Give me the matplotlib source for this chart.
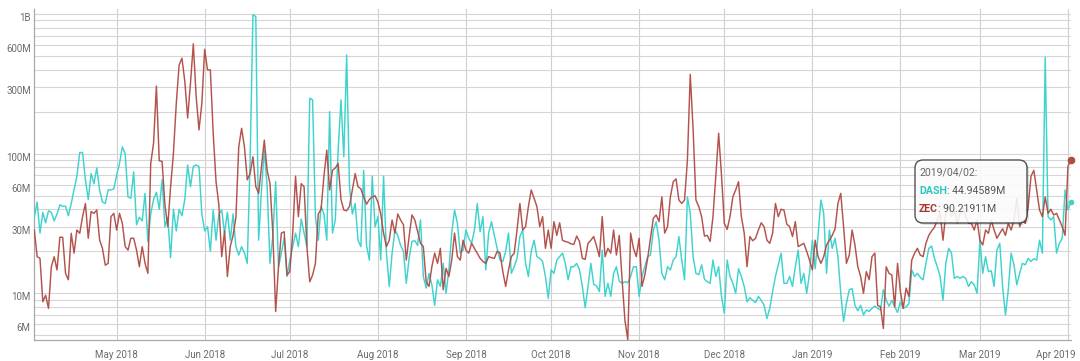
import matplotlib
matplotlib.use("Agg")
import matplotlib.pyplot as plt
import matplotlib.dates as mdates
import matplotlib.transforms as mtransforms
import numpy as np
import pandas as pd
from matplotlib.patches import FancyBboxPatch
from matplotlib.ticker import FixedLocator, FixedFormatter, LogLocator, NullFormatter

plt.rcParams["font.family"] = ["Roboto", "DejaVu Sans"]

# ---------------- data (daily volume, millions USD) ----------------
start_date = "2018-04-02"

dash_apr_jun = [35, 45, 27, 38, 32, 39, 38, 33, 37, 43, 42, 42, 36, 44, 55, 69, 102, 102, 65, 47,
                72, 61, 79, 55, 45, 44, 55, 55, 56, 70, 85, 112, 100, 49, 48, 74, 31, 35, 33, 52,
                23.5, 37, 47, 53, 40, 65, 30, 35, 18, 40, 28, 40, 36, 47, 83, 58, 81, 83, 81, 37,
                28, 30, 20]
dash_jun_aug = [39.5, 24, 37, 39.5, 27, 38, 24, 37, 21.6, 18.8, 21.6, 19.4, 16.4, 90, 990, 960, 24, 55, 106, 58,
                16.4, 25.5, 63, 15.5, 19.4, 25, 13.2, 17.3, 21.6, 27, 21.6, 34, 27, 21.6, 250, 243, 35.4, 24, 42, 37,
                24, 200, 27, 33.5, 106, 243, 95, 510, 58, 37, 44, 24, 21.6, 76, 22, 17.3, 69, 30, 35.4, 17.3,
                69]
dash_aug_oct = [19.4, 11.2, 19.4, 28.4, 26, 22, 20, 11.8, 17.8, 23.5, 23.8, 22, 33.5, 13.2, 10.9, 13.9, 11.5, 8.2, 12.5, 11.2,
                16.4, 10, 14.7, 27, 39.5, 31.7, 19.4, 20.4, 28.4, 24.8, 22.8, 28.4, 44, 27.6, 35.4, 14.7, 27, 32.6, 26, 21,
                17.3, 16.9, 20, 27, 13.9, 15.5, 17.8, 25.5, 28.4, 16.4, 13.2, 20, 24, 18.3, 17.8, 16.9, 13.2, 9.2, 14.7, 13.9,
                17.3]
dash_oct_dec = [18.3, 19.4, 16.4, 12.5, 15.5, 15.5, 16.4, 14.7, 11.2, 7.9, 11.2, 16.4, 11.6, 11.3, 10.3, 20.4, 9.5, 11.8, 9.5, 13.9,
                15.5, 12.2, 11.8, 12.1, 11.9, 13.2, 15.5, 15.5, 9.5, 13.2, 15.5, 18.3, 18.8, 28.4, 32.6, 24, 13.9, 12.5, 15.5, 14.7,
                17.3, 18.3, 25.5, 17.3, 12.5, 49, 37.4, 18.3, 13.9, 13.6, 16, 12.6, 12.1, 11.8, 17.3, 13.2, 15.5, 9.5, 7.2, 17.3,
                13.2, 11.8]
dash_dec_feb = [10, 15, 13.2, 11.2, 8.7, 9.3, 8.9, 8.6, 9.5, 8.9, 8.2, 6.6, 7.8, 10.3, 13.2, 16, 19.4, 11.8, 11.8, 13.2,
                11.2, 15.5, 20.4, 11.8, 13.9, 10, 13.9, 24, 15, 26, 46.6, 37.4, 13.9, 28.4, 21, 24.8, 18.3, 10, 6.3, 8.5,
                10.6, 10.8, 8.2, 7.5, 8.2, 7, 7.6, 7.4, 7.8, 8.1, 7.8, 7.6, 10.6, 8.9, 8.1, 8.9, 8, 7.3, 8.7, 7.8,
                8]
dash_feb_apr = [8.4, 14.7, 13.2, 13.9, 13, 12.5, 16.4, 21, 21.8, 17.8, 15.5, 13.2, 8.9, 16.4, 21, 19.4, 12.8, 13.2, 12.8, 13.2,
                12.8, 11.2, 12.1, 11.5, 10, 24, 13.9, 18.3, 14.3, 14.5, 11.2, 20.4, 22.8, 11.2, 7, 10.6, 19.4, 16, 11.5, 13.9,
                16.4, 16, 17.8, 16.9, 17.7, 17.3, 24, 19.4, 490, 35.4, 33.5, 35.4, 19.4, 22.8, 24.8, 55, 39.5, 44.94589]

zec_apr_jun = [28.4, 18.3, 17.8, 8.7, 9.7, 7.8, 15.5, 18.3, 14.7, 25.2, 25.2, 13.9, 12.5, 26.9, 19.4, 28.4, 26.9, 35.4, 44, 24.8,
               38.5, 37.4, 39.5, 24.1, 21, 15.9, 16.4, 35.4, 37.4, 28.4, 37.4, 31.7, 21.6, 20.4, 24.8, 24.8, 20.4, 15.5, 21.6, 16.4,
               13.9, 85, 119, 305, 89, 88, 43, 30, 58, 101, 229, 432, 483, 330, 180, 320, 612, 257, 148, 229,
               559, 398, 398]
zec_jun_aug = [140, 63, 43, 18.3, 28, 13.2, 21.6, 26, 35, 112, 152, 112, 65, 72, 95, 58, 52, 81, 125, 76,
               61, 27, 7.4, 15.5, 27, 27.6, 13.5, 14.3, 27, 69, 35.4, 61, 58, 21.6, 12.1, 13.5, 16.4, 37, 40, 69,
               106, 55, 76, 79, 85, 47, 39.5, 39, 42, 55, 72, 58, 56, 49, 43.5, 47, 49, 50, 45, 37,
               27]
zec_aug_oct = [21.6, 24, 33.5, 27, 37, 33.5, 31, 17.3, 25.5, 36.4, 33.5, 27.6, 22.8, 21.6, 12.1, 11.2, 15.5, 19.4, 16.4, 21,
               10.6, 15.1, 13.2, 17.3, 27, 18.3, 17.3, 24, 20.4, 19.4, 22.8, 21, 19.4, 17.8, 16.9, 16.4, 18.3, 18, 17.8, 20,
               19.4, 14.3, 11.2, 14.7, 18.3, 19.4, 28.4, 44, 28.4, 30, 41.8, 55, 48, 41.8, 30, 35.4, 21, 28.4, 21, 32.6,
               26]
zec_oct_dec = [32, 24, 23.5, 23.2, 22.6, 22.4, 25.7, 23.5, 17.8, 17.5, 22.8, 24, 25.5, 21.8, 18.3, 35.4, 18.3, 21, 19.4, 28.4,
               18.8, 26, 12.5, 6.4, 4.65, 27, 21, 18.3, 24.8, 11.2, 13.5, 17.8, 24.8, 34.5, 36.4, 32.6, 49, 27, 30, 49,
               63, 66, 46.6, 44, 46.6, 90, 370, 150, 46.6, 41.8, 35.4, 25.7, 26, 23.5, 35.4, 69, 140, 70, 31.7, 28.7,
               35.4, 49]
zec_dec_feb = [55, 63, 35.4, 27, 15.5, 25.5, 23.8, 24.8, 28.4, 32, 30, 24, 22.8, 27, 44, 35.4, 40, 39.5, 31.3, 30,
               25.5, 32.6, 21.6, 22.2, 22.8, 20, 17.3, 14.7, 24, 18.3, 16.4, 18.3, 22.2, 24, 26, 29, 44, 52, 30, 16.4,
               18.8, 28.4, 22.2, 15.5, 13.2, 10, 14.3, 12.5, 18.3, 19.4, 8.2, 8, 5.6, 15.5, 13.9, 13.5, 8, 16.4, 10.3, 7.8,
               10.9]
zec_feb_apr = [9.5, 17.3, 19.4, 21, 18.8, 18.3, 22.8, 26, 28, 29.7, 33.5, 37.4, 24, 37.4, 41.8, 35.4, 39.5, 31.7, 37.4, 41.8,
               35.4, 31.7, 31.7, 28.4, 33.5, 24, 22.2, 28.4, 26.9, 33.5, 28.4, 24.8, 26.9, 29, 26, 31.7, 28.4, 33.5, 48, 30,
               33.5, 31.7, 41.8, 69, 76, 55, 39.5, 35.4, 49, 37.4, 40, 36.4, 37.4, 33.5, 30, 26, 81, 90.21911]

ytick_values = [6e6, 1e7, 3e7, 6e7, 1e8, 3e8, 6e8, 1e9]
ytick_labels = ["6M", "10M", "30M", "60M", "100M", "300M", "600M", "1B"]

tooltip_date = "2019/04/02:"
tooltip_dash = ": 44.94589M"
tooltip_zec = ": 90.21911M"

dash = np.array(dash_apr_jun + dash_jun_aug + dash_aug_oct + dash_oct_dec + dash_dec_feb + dash_feb_apr) * 1e6
zec = np.array(zec_apr_jun + zec_jun_aug + zec_aug_oct + zec_oct_dec + zec_dec_feb + zec_feb_apr) * 1e6
dates = pd.date_range(start_date, periods=len(dash), freq="D")
assert len(dash) == len(zec) == 366

# ---------------- styling ----------------
DASH_C = "#3fd3ce"
ZEC_C = "#b04a43"
GRID_C = "#d6d6d6"
TXT_C = "#6b6b6b"

W, H = 1080, 361
fig = plt.figure(figsize=(W / 100, H / 100), dpi=100)
fig.patch.set_facecolor("white")
ax_l, ax_r, ax_t, ax_b = 34.3, 1071.0, 9.3, 340.0
ax = fig.add_axes([ax_l / W, (H - ax_b) / H, (ax_r - ax_l) / W, (ax_b - ax_t) / H])

ax.plot(dates, dash, color=DASH_C, lw=1.05, zorder=3, solid_joinstyle="round")
ax.plot(dates, zec, color=ZEC_C, lw=1.05, zorder=4, alpha=0.95, solid_joinstyle="round")
ax.plot(dates[-1], zec[-1], "o", ms=4.5, color=ZEC_C, zorder=6, clip_on=False)
ax.plot(dates[-1], dash[-1], "o", ms=3.0, color=DASH_C, zorder=6, clip_on=False)

ax.set_yscale("log")
ax.set_ylim(4.63e6, 1.082e9)
ax.set_xlim(dates[0], dates[-1] + pd.Timedelta(hours=2))

ax.yaxis.set_major_locator(FixedLocator(ytick_values))
ax.yaxis.set_major_formatter(FixedFormatter(ytick_labels))
ax.yaxis.set_minor_locator(LogLocator(base=10, subs=np.arange(1, 10), numticks=60))
ax.yaxis.set_minor_formatter(NullFormatter())
ax.xaxis.set_major_locator(mdates.MonthLocator())
ax.xaxis.set_major_formatter(mdates.DateFormatter("%b %Y"))

ax.grid(True, which="both", axis="y", color=GRID_C, lw=0.8, zorder=0)
ax.grid(True, which="major", axis="x", color="#cfcfcf", lw=0.8, zorder=0)
ax.set_axisbelow(True)

ax.tick_params(axis="both", which="both", length=0, labelsize=7, colors=TXT_C)
ax.tick_params(axis="x", pad=7)
ax.tick_params(axis="y", pad=2.5)
for s in ("top", "right"):
    ax.spines[s].set_visible(False)
for s in ("left", "bottom"):
    ax.spines[s].set_color("#a8a8a8")
    ax.spines[s].set_linewidth(0.9)

fig.canvas.draw()
# y labels sit a little below their grid lines; last x label is kept inside the chart
down = mtransforms.ScaledTranslation(0, -3 / 100, fig.dpi_scale_trans)
for lab in ax.get_yticklabels():
    lab.set_transform(lab.get_transform() + down)
xlabs = ax.get_xticklabels()
last = xlabs[-1]
last.set_horizontalalignment("right")
last.set_transform(last.get_transform() + mtransforms.ScaledTranslation(8 / 100, 0, fig.dpi_scale_trans))

# ---------------- tooltip ----------------
bx0, by0, bx1, by1 = 915, 160, 1027, 223
shadow = FancyBboxPatch(((bx0 + 2) / W, (H - by1 - 2) / H), (bx1 - bx0) / W, (by1 - by0) / H,
                        boxstyle="round,pad=0,rounding_size=0.0075", transform=fig.transFigure,
                        facecolor="black", edgecolor="none", alpha=0.12, zorder=9,
                        mutation_aspect=W / H)
fig.patches.append(shadow)
box = FancyBboxPatch((bx0 / W, (H - by1) / H), (bx1 - bx0) / W, (by1 - by0) / H,
                     boxstyle="round,pad=0,rounding_size=0.0075", transform=fig.transFigure,
                     facecolor="white", edgecolor="#3a3a3a", lw=1.0, alpha=0.88, zorder=10,
                     mutation_aspect=W / H)
fig.patches.append(box)

fs = 7.6
tx = 919 / W
fig.text(tx, (H - 172.7) / H, tooltip_date, fontsize=fs, color="#666666", va="center", zorder=11)
r = fig.canvas.get_renderer()
inv = fig.transFigure.inverted()
t_d = fig.text(tx, (H - 190.7) / H, "DASH", fontsize=fs, color="#2cc6c1", fontweight="bold",
               va="center", zorder=11)
xe = inv.transform((t_d.get_window_extent(r).x1, 0))[0]
fig.text(xe, (H - 190.7) / H, tooltip_dash, fontsize=fs, color="#555555", va="center", zorder=11)
t_z = fig.text(tx, (H - 209) / H, "ZEC", fontsize=fs, color="#a13c36", fontweight="bold",
               va="center", zorder=11)
xe = inv.transform((t_z.get_window_extent(r).x1, 0))[0]
fig.text(xe, (H - 209) / H, tooltip_zec, fontsize=fs, color="#555555", va="center", zorder=11)

fig.savefig("out.png", dpi=100, facecolor="white")
